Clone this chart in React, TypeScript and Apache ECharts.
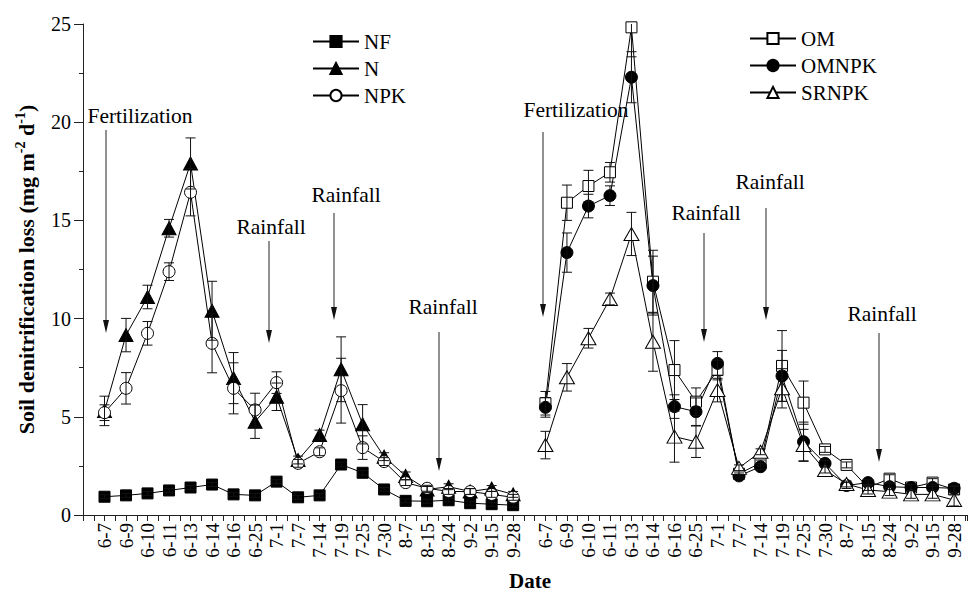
import React, { useEffect, useRef } from "react";
import * as echarts from "echarts";

const categories = ["6-7", "6-9", "6-10", "6-11", "6-13", "6-14", "6-16", "6-25", "7-1", "7-7", "7-14", "7-19", "7-25", "7-30", "8-7", "8-15", "8-24", "9-2", "9-15", "9-28"];

// left panel
const NF = [0.93, 1.0, 1.1, 1.25, 1.4, 1.55, 1.05, 1.0, 1.7, 0.9, 1.0, 2.57, 2.15, 1.3, 0.72, 0.7, 0.75, 0.6, 0.55, 0.5];
const NFErr = [0.1, 0.1, 0.1, 0.1, 0.1, 0.1, 0.1, 0.1, 0.1, 0.1, 0.1, 0.12, 0.12, 0.1, 0.1, 0.1, 0.1, 0.1, 0.1, 0.1];
const N = [5.3, 9.16, 11.1, 14.6, 17.9, 10.4, 6.97, 4.75, 6.02, 2.8, 4.07, 7.42, 4.62, 2.97, 1.99, 1.3, 1.44, 1.2, 1.35, 1.05];
const NErr = [0.75, 0.85, 0.6, 0.45, 1.3, 1.5, 1.3, 0.85, 0.7, 0.2, 0.25, 1.65, 1.0, 0.2, 0.2, 0.15, 0.15, 0.15, 0.15, 0.15];
const NPK = [5.21, 6.45, 9.25, 12.39, 16.43, 8.74, 6.45, 5.35, 6.74, 2.63, 3.22, 6.33, 3.43, 2.72, 1.65, 1.36, 1.2, 1.19, 1.05, 0.9];
const NPKErr = [0.4, 0.8, 0.6, 0.45, 1.2, 1.5, 1.3, 0.85, 0.55, 0.2, 0.2, 1.65, 0.6, 0.2, 0.15, 0.15, 0.15, 0.15, 0.15, 0.15];

// right panel
const OM = [5.69, 15.9, 16.75, 17.45, 24.83, 11.88, 7.38, 5.77, 7.38, 2.1, 2.65, 7.59, 5.72, 3.34, 2.55, 1.4, 1.85, 1.4, 1.65, 1.3];
const OMErr = [0.6, 0.9, 0.8, 0.5, 1.5, 1.6, 1.5, 0.7, 0.5, 0.15, 0.15, 1.8, 1.1, 0.15, 0.15, 0.15, 0.2, 0.15, 0.2, 0.15];
const OMNPK = [5.48, 13.36, 15.73, 16.26, 22.29, 11.68, 5.52, 5.26, 7.72, 1.99, 2.46, 7.08, 3.73, 2.63, 1.5, 1.65, 1.44, 1.4, 1.4, 1.36];
const OMNPKErr = [0.5, 1.0, 0.6, 0.5, 1.3, 1.5, 0.6, 0.7, 0.6, 0.15, 0.15, 1.3, 1.0, 0.15, 0.15, 0.15, 0.15, 0.15, 0.15, 0.15];
const SRNPK = [3.56, 7.01, 9.0, 11.0, 14.31, 8.82, 3.99, 3.73, 6.36, 2.4, 3.22, 6.45, 3.56, 2.29, 1.58, 1.27, 1.19, 1.05, 1.05, 0.76];
const SRNPKErr = [0.7, 0.7, 0.5, 0.3, 1.1, 1.5, 1.3, 0.8, 0.6, 0.15, 0.15, 1.0, 0.8, 0.15, 0.15, 0.2, 0.2, 0.2, 0.2, 0.3];

const yTicks = [0, 5, 10, 15, 20, 25];

// axis positions in half-step units
const LEFT_START = 2;
const RIGHT_START = 43;
const X_MAX = 82.2;

const FONT = "'Liberation Serif', 'Times New Roman', serif";

const posLeft = (i: number) => LEFT_START + 2 * i;
const posRight = (i: number) => RIGHT_START + 2 * i;

function lineSeries(name: string, vals: number[], pos: (i: number) => number, symbol: string, size: any, filled: boolean) {
  return {
    type: "line",
    name,
    data: vals.map((v, i) => [pos(i), v]),
    symbol,
    symbolSize: size,
    showAllSymbol: true,
    lineStyle: { color: "#000", width: 1 },
    itemStyle: { color: filled ? "#000" : "#fff", borderColor: "#000", borderWidth: 1 },
    z: 3,
  };
}

function errSeries(name: string, vals: number[], errs: number[], pos: (i: number) => number) {
  return {
    type: "custom",
    name,
    clip: true,
    z: 4,
    data: vals.map((v, i) => [pos(i), v - errs[i], v + errs[i]]),
    renderItem: (params: any, api: any) => {
      const x = api.value(0);
      const top = api.coord([x, api.value(2)]);
      const bot = api.coord([x, api.value(1)]);
      const w = 5;
      const st = { stroke: "#111", lineWidth: 1 };
      return {
        type: "group",
        children: [
          { type: "line", shape: { x1: top[0], y1: top[1], x2: bot[0], y2: bot[1] }, style: st },
          { type: "line", shape: { x1: top[0] - w, y1: top[1], x2: top[0] + w, y2: top[1] }, style: st },
          { type: "line", shape: { x1: bot[0] - w, y1: bot[1], x2: bot[0] + w, y2: bot[1] }, style: st },
        ],
      };
    },
  };
}

const annotations = [
  { text: "Fertilization", tx: 140, ty: 116, ax: 106, y1: 130, y2: 333 },
  { text: "Rainfall", tx: 271, ty: 227, ax: 269, y1: 241, y2: 343 },
  { text: "Rainfall", tx: 346, ty: 195, ax: 334, y1: 213, y2: 320 },
  { text: "Rainfall", tx: 443, ty: 307, ax: 439, y1: 332, y2: 471 },
  { text: "Fertilization", tx: 576, ty: 110, ax: 543, y1: 132, y2: 317 },
  { text: "Rainfall", tx: 706, ty: 213, ax: 704, y1: 233, y2: 342 },
  { text: "Rainfall", tx: 770, ty: 182, ax: 766, y1: 208, y2: 320 },
  { text: "Rainfall", tx: 882, ty: 314, ax: 879, y1: 333, y2: 462 },
];

function buildGraphics() {
  const g: any[] = [];
  annotations.forEach((a) => {
    g.push({
      type: "text",
      x: a.tx,
      y: a.ty,
      style: { text: a.text, font: `21.5px ${FONT}`, fill: "#000", align: "center", verticalAlign: "middle" },
      z: 10,
    });
    g.push({
      type: "line",
      shape: { x1: a.ax, y1: a.y1, x2: a.ax, y2: a.y2 - 10 },
      style: { stroke: "#222", lineWidth: 1 },
      z: 10,
    });
    g.push({
      type: "polygon",
      shape: { points: [[a.ax - 3, a.y2 - 13], [a.ax + 3, a.y2 - 13], [a.ax, a.y2]] },
      style: { fill: "#111" },
      z: 10,
    });
  });
  return g;
}

export default function App() {
  const ref = useRef<HTMLDivElement>(null);
  useEffect(() => {
    if (!ref.current) return;
    const chart = echarts.init(ref.current, null, { renderer: "svg" });
    const xLabel = (v: number) => {
      if (v >= LEFT_START && v <= LEFT_START + 2 * (categories.length - 1) && (v - LEFT_START) % 2 === 0) {
        return categories[(v - LEFT_START) / 2];
      }
      if (v >= RIGHT_START && v <= RIGHT_START + 2 * (categories.length - 1) && (v - RIGHT_START) % 2 === 0) {
        return categories[(v - RIGHT_START) / 2];
      }
      return "";
    };
    chart.setOption({
      animation: false,
      backgroundColor: "#fff",
      textStyle: { fontFamily: FONT, color: "#000" },
      grid: { left: 83, right: 1, top: 24, bottom: 79, containLabel: false, outerBoundsMode: "none" },
      xAxis: [
        {
          type: "value",
          min: 0,
          max: X_MAX,
          interval: 1,
          name: "Date",
          nameLocation: "middle",
          nameGap: 55,
          nameMoveOverlap: false,
          nameTextStyle: { fontFamily: FONT, fontSize: 21, fontWeight: "bold", color: "#000", lineHeight: 21, padding: [0, 0, 0, 10] },
          axisLine: { show: true, onZero: false, lineStyle: { color: "#222", width: 1 } },
          axisTick: { show: true, length: 6, lineStyle: { color: "#222" } },
          axisLabel: {
            formatter: xLabel,
            rotate: 90,
            margin: 8,
            fontFamily: FONT,
            fontSize: 19,
            color: "#000",
            showMinLabel: true,
            showMaxLabel: true,
          },
          splitLine: { show: false },
        },
        {
          type: "value",
          position: "top",
          min: 0,
          max: X_MAX,
          axisLine: { show: true, lineStyle: { color: "#222", width: 1 } },
          axisTick: { show: false },
          axisLabel: { show: false },
          splitLine: { show: false },
        },
      ],
      yAxis: {
        type: "value",
        min: yTicks[0],
        max: yTicks[yTicks.length - 1],
        interval: 5,
        name: "Soil denitrification loss (mg m{sup|-2} d{sup|-1})",
        nameLocation: "middle",
        nameGap: 44,
        nameMoveOverlap: false,
        nameTextStyle: {
          fontFamily: FONT,
          fontSize: 22,
          fontWeight: "bold",
          color: "#000",
          lineHeight: 26,
          rich: {
            sup: { fontFamily: FONT, fontSize: 14, fontWeight: "bold", color: "#000", verticalAlign: "top", lineHeight: 16 },
          },
        },
        axisLine: { show: true, lineStyle: { color: "#222", width: 1 } },
        axisTick: { show: true, length: 9, lineStyle: { color: "#222" } },
        minorTick: { show: true, splitNumber: 2, length: 4, lineStyle: { color: "#222" } },
        axisLabel: { fontFamily: FONT, fontSize: 20, color: "#000", margin: 12 },
        splitLine: { show: false },
      },
      legend: [
        {
          data: ["NF", "N", "NPK"],
          orient: "vertical",
          left: 312,
          top: 31,
          padding: 0,
          itemWidth: 46,
          itemHeight: 14,
          itemGap: 6,
          textStyle: { fontFamily: FONT, fontSize: 21, color: "#000", lineHeight: 21 },
        },
        {
          data: ["OM", "OMNPK", "SRNPK"],
          orient: "vertical",
          left: 749,
          top: 28,
          padding: 0,
          itemWidth: 46,
          itemHeight: 14,
          itemGap: 6,
          textStyle: { fontFamily: FONT, fontSize: 21, color: "#000", lineHeight: 21 },
        },
      ],
      series: [
        lineSeries("NF", NF, posLeft, "rect", 11, true),
        lineSeries("N", N, posLeft, "triangle", [14, 13], true),
        lineSeries("NPK", NPK, posLeft, "circle", 12, false),
        lineSeries("OM", OM, posRight, "rect", 11, false),
        lineSeries("OMNPK", OMNPK, posRight, "circle", 12, true),
        lineSeries("SRNPK", SRNPK, posRight, "triangle", [15, 13], false),
        errSeries("NF err", NF, NFErr, posLeft),
        errSeries("N err", N, NErr, posLeft),
        errSeries("NPK err", NPK, NPKErr, posLeft),
        errSeries("OM err", OM, OMErr, posRight),
        errSeries("OMNPK err", OMNPK, OMNPKErr, posRight),
        errSeries("SRNPK err", SRNPK, SRNPKErr, posRight),
      ],
      graphic: buildGraphics(),
    });
    return () => chart.dispose();
  }, []);
  return <div ref={ref} style={{ width: 968, height: 594, position: "absolute", left: 0, top: 0 }} />;
}
